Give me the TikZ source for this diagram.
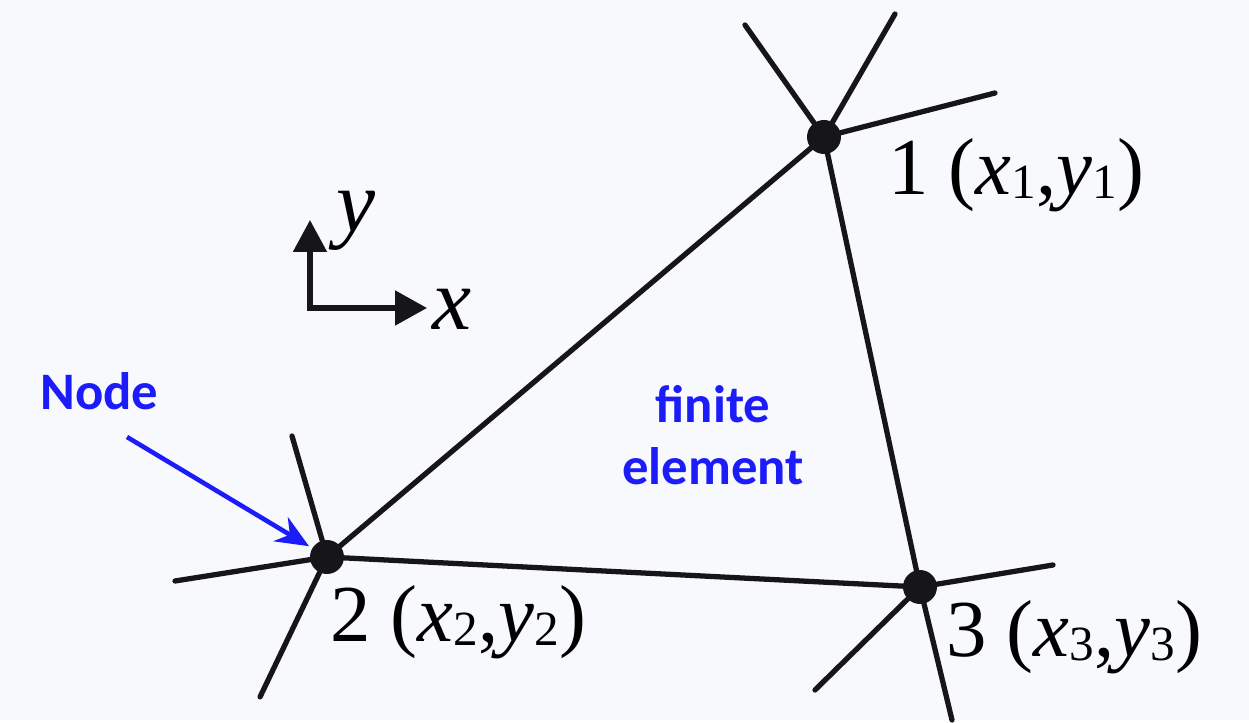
\documentclass[tikz,border=0pt]{standalone}
\usepackage{fontspec}
\setmainfont{Liberation Serif}
\newfontfamily\calib{Carlito}
\usetikzlibrary{arrows.meta}
\definecolor{pagebg}{RGB}{248,249,253}
\definecolor{inkblue}{RGB}{28,28,250}
\definecolor{ink}{RGB}{22,22,26}
\newcommand\lsub[1]{\raisebox{-2pt}{\fontsize{28}{28}\selectfont #1}}

\begin{document}
\begin{tikzpicture}[x=0.02cm,y=-0.02cm,
  mesh/.style={ink,line width=3pt,line cap=round},
  dot/.style={circle,fill=ink,inner sep=0pt,minimum size=0.68cm},
  lbl/.style={anchor=base west,inner sep=0pt,font=\fontsize{46}{50}\selectfont},
  note/.style={inkblue,inner sep=0pt,align=center,font=\calib\bfseries\fontsize{30}{35}\selectfont}]
  \fill[pagebg] (0,0) rectangle (1249,720);
  \node[dot] (n1) at (824,137) {};
  \node[dot] (n2) at (327,557) {};
  \node[dot] (n3) at (920,587) {};
  \coordinate (s1a) at (745,25);
  \coordinate (s1b) at (895,14);
  \coordinate (s1c) at (995,93);
  \coordinate (s2a) at (292,436);
  \coordinate (s2b) at (175,581);
  \coordinate (s2c) at (260,697);
  \coordinate (s3a) at (1053,565);
  \coordinate (s3b) at (815,690);
  \coordinate (s3c) at (952,720);
  \draw[mesh] (n1.center) -- (n2.center) -- (n3.center) -- cycle;
  \draw[mesh] (n1.center) -- (s1a) (n1.center) -- (s1b) (n1.center) -- (s1c);
  \draw[mesh] (n2.center) -- (s2a) (n2.center) -- (s2b) (n2.center) -- (s2c);
  \draw[mesh] (n3.center) -- (s3a) (n3.center) -- (s3b) (n3.center) -- (s3c);
  \node[lbl] (l1) at (888,195) {1 (\textit{x}\lsub{1},\textit{y}\lsub{1})};
  \node[lbl] (l2) at (330,642) {2 (\textit{x}\lsub{2},\textit{y}\lsub{2})};
  \node[lbl] (l3) at (946,657) {3 (\textit{x}\lsub{3},\textit{y}\lsub{3})};
  \coordinate (o) at (310,308);
  \coordinate (ax) at (427,308);
  \coordinate (ay) at (310,220);
  \draw[ink,line width=3pt,line join=miter,
    {Triangle[length=0.64cm,width=0.66cm]}-{Triangle[length=0.64cm,width=0.68cm]}]
    (ay) -- (o) -- (ax);
  \node[lbl,font=\fontsize{50}{54}\selectfont\itshape] (ylbl) at (336,232) {y};
  \node[lbl,font=\fontsize{50}{54}\selectfont\itshape] (xlbl) at (432,330) {x};
  \node[note,anchor=base west] (nodelbl) at (40,410) {Node};
  \node[note] (elem) at (713,435) {finite\\element};
  \coordinate (a0) at (127,437);
  \draw[inkblue,line width=2.6pt,-{Stealth[length=0.66cm,width=0.56cm]},shorten >=0.42cm]
    (a0) -- (n2.center);
\end{tikzpicture}
\end{document}
